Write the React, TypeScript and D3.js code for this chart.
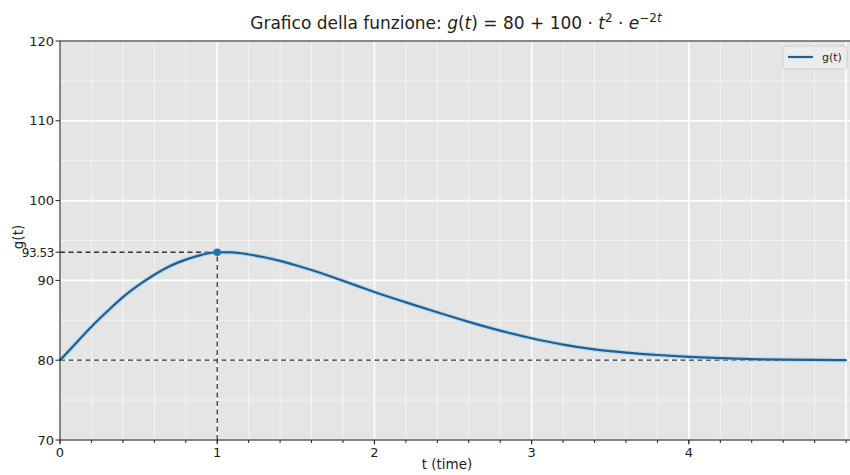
import { useEffect, useRef } from 'react';
import * as d3 from 'd3';

// values of g(t)
const tValues = [0, 0.1, 0.2, 0.3, 0.4, 0.5, 0.6, 0.7, 0.8, 0.9, 1.0, 1.1, 1.2, 1.3, 1.4, 1.5, 1.6, 1.7, 1.8, 1.9, 2.0,
  2.2, 2.4, 2.6, 2.8, 3.0, 3.2, 3.4, 3.6, 3.8, 4.0, 4.2, 4.4, 4.6, 4.8, 5.0];
const gValues = [80, 82.1, 84.2, 86.1, 87.9, 89.4, 90.7, 91.8, 92.6, 93.2, 93.53, 93.5, 93.25, 92.9, 92.45, 91.9,
  91.3, 90.65, 89.95, 89.25, 88.55, 87.25, 86.0, 84.8, 83.7, 82.75, 81.95, 81.35, 80.95, 80.65, 80.42, 80.25, 80.13,
  80.06, 80.03, 80.02];
const peak = { t: 1, g: 93.53 };
const baseline = 80;
const xTicks = [0, 1, 2, 3, 4];
const yTicks = [70, 80, 90, 100, 110, 120];

const FONT = '"DejaVu Sans", sans-serif';

export default function App() {
  const ref = useRef<SVGSVGElement>(null);

  useEffect(() => {
    if (!ref.current) return;
    const svg = d3.select(ref.current);
    svg.selectAll('*').remove();

    const left = 60, right = 850, top = 41, bottom = 440;
    const x = d3.scaleLinear().domain([0, 5.025]).range([left, right]);
    const y = d3.scaleLinear().domain([70, 120]).range([bottom, top]);

    svg.append('rect').attr('x', left).attr('y', top).attr('width', right - left).attr('height', bottom - top).attr('fill', '#e5e5e5');

    const grid = svg.append('g');
    // minor grid
    d3.range(0, 5.01, 0.2).forEach((v) => {
      grid.append('line').attr('x1', x(v)).attr('x2', x(v)).attr('y1', top).attr('y2', bottom)
        .attr('stroke', '#fff').attr('stroke-width', 0.8).attr('opacity', 0.7);
    });
    d3.range(70, 121, 5).forEach((v) => {
      grid.append('line').attr('x1', left).attr('x2', right).attr('y1', y(v)).attr('y2', y(v))
        .attr('stroke', '#fff').attr('stroke-width', 0.8).attr('opacity', 0.7);
    });
    // major grid
    xTicks.concat([5]).forEach((v) => {
      grid.append('line').attr('x1', x(v)).attr('x2', x(v)).attr('y1', top).attr('y2', bottom)
        .attr('stroke', '#fff').attr('stroke-width', 1.6);
    });
    yTicks.forEach((v) => {
      grid.append('line').attr('x1', left).attr('x2', right).attr('y1', y(v)).attr('y2', y(v))
        .attr('stroke', '#fff').attr('stroke-width', 1.6);
    });

    // dashed guides
    const dash = { stroke: '#333', w: 1.3, d: '5 3.5' };
    svg.append('line').attr('x1', left).attr('x2', right).attr('y1', y(baseline)).attr('y2', y(baseline))
      .attr('stroke', dash.stroke).attr('stroke-width', dash.w).attr('stroke-dasharray', dash.d);
    svg.append('line').attr('x1', left).attr('x2', x(peak.t)).attr('y1', y(peak.g)).attr('y2', y(peak.g))
      .attr('stroke', dash.stroke).attr('stroke-width', dash.w).attr('stroke-dasharray', dash.d);
    svg.append('line').attr('x1', x(peak.t)).attr('x2', x(peak.t)).attr('y1', bottom).attr('y2', y(peak.g))
      .attr('stroke', dash.stroke).attr('stroke-width', dash.w).attr('stroke-dasharray', dash.d);

    const pts = tValues.map((t, i) => [t, gValues[i]] as [number, number]);
    const line = d3.line<[number, number]>().x((d) => x(d[0])).y((d) => y(d[1])).curve(d3.curveMonotoneX);
    svg.append('path').datum(pts).attr('fill', 'none').attr('stroke', '#8fd0ef').attr('stroke-width', 4.5).attr('opacity', 0.5).attr('d', line);
    svg.append('path').datum(pts).attr('fill', 'none').attr('stroke', '#1f5f94').attr('stroke-width', 2.2).attr('d', line);
    svg.append('circle').attr('cx', x(peak.t)).attr('cy', y(peak.g)).attr('r', 3.8).attr('fill', '#2274ad');

    // spines
    svg.append('line').attr('x1', left).attr('x2', left).attr('y1', top).attr('y2', bottom).attr('stroke', '#111').attr('stroke-width', 1);
    svg.append('line').attr('x1', left).attr('x2', right).attr('y1', top).attr('y2', top).attr('stroke', '#111').attr('stroke-width', 1);
    svg.append('line').attr('x1', left).attr('x2', right).attr('y1', bottom).attr('y2', bottom).attr('stroke', '#111').attr('stroke-width', 1);

    // axes
    const ax = svg.append('g');
    d3.range(0, 5.01, 0.2).forEach((v) => {
      ax.append('line').attr('x1', x(v)).attr('x2', x(v)).attr('y1', bottom).attr('y2', bottom + 3).attr('stroke', '#222');
    });
    xTicks.forEach((v) => {
      ax.append('line').attr('x1', x(v)).attr('x2', x(v)).attr('y1', bottom).attr('y2', bottom + 4.5).attr('stroke', '#222');
      ax.append('text').attr('x', x(v)).attr('y', bottom + 17).attr('text-anchor', 'middle')
        .attr('font-family', FONT).attr('font-size', 13).attr('fill', '#222').text(String(v));
    });
    yTicks.concat([peak.g]).forEach((v) => {
      ax.append('line').attr('x1', left - 4.5).attr('x2', left).attr('y1', y(v)).attr('y2', y(v)).attr('stroke', '#222');
      ax.append('text').attr('x', left - 6).attr('y', y(v) + 4.6).attr('text-anchor', 'end')
        .attr('font-family', FONT).attr('font-size', v === peak.g ? 12 : 13).attr('fill', '#222')
        .attr('letter-spacing', v === peak.g ? -0.4 : 0)
        .text(v === peak.g ? v.toFixed(2) : String(v));
    });

    svg.append('text').attr('x', 447).attr('y', 469).attr('text-anchor', 'middle')
      .attr('font-family', FONT).attr('font-size', 13.5).attr('fill', '#222').text('t (time)');
    svg.append('text').attr('transform', 'translate(23,237) rotate(-90)').attr('text-anchor', 'middle')
      .attr('font-family', FONT).attr('font-size', 13.5).attr('fill', '#222').text('g(t)');

    // title
    const title = svg.append('text').attr('x', 456).attr('y', 29).attr('text-anchor', 'middle')
      .attr('font-family', FONT).attr('font-size', 17).attr('fill', '#222');
    title.append('tspan').text('Grafico della funzione: ');
    title.append('tspan').attr('font-style', 'italic').text('g');
    title.append('tspan').text('(');
    title.append('tspan').attr('font-style', 'italic').text('t');
    title.append('tspan').text(') = 80 + 100 · ');
    title.append('tspan').attr('font-style', 'italic').text('t');
    title.append('tspan').attr('font-size', 12).attr('dy', -7).text('2');
    title.append('tspan').attr('dy', 7).text(' · ');
    title.append('tspan').attr('font-style', 'italic').text('e');
    title.append('tspan').attr('font-size', 12).attr('dy', -7).text('−2');
    title.append('tspan').attr('font-size', 12).attr('font-style', 'italic').text('t');

    // legend
    const lg = svg.append('g');
    lg.append('rect').attr('x', 783).attr('y', 46).attr('width', 64).attr('height', 23).attr('rx', 3)
      .attr('fill', '#ececec').attr('stroke', '#d0d0d0');
    lg.append('line').attr('x1', 788).attr('x2', 813).attr('y1', 57).attr('y2', 57).attr('stroke', '#1f5f94').attr('stroke-width', 2.2);
    lg.append('text').attr('x', 822).attr('y', 61).attr('font-family', FONT).attr('font-size', 11).attr('fill', '#222').text('g(t)');
  }, []);

  return <svg ref={ref} width={850} height={475} style={{ position: 'absolute', left: 0, top: 0, background: '#fff' }} />;
}
